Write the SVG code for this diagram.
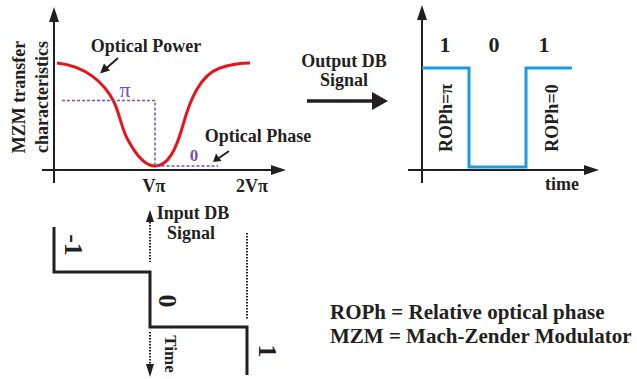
<svg xmlns="http://www.w3.org/2000/svg" width="637" height="379" viewBox="0 0 637 379">
<style>
text{font-family:"Liberation Serif","Times New Roman",serif;font-weight:bold;fill:#231f20}
.ax{stroke:#231f20;stroke-width:2;fill:none}
.dash{stroke:#7b4fb0;stroke-width:1.5;stroke-dasharray:3 2;fill:none}
.dot{stroke:#231f20;stroke-width:2;stroke-dasharray:1.5 1.5;fill:none}
.step{stroke:#231f20;stroke-width:3;fill:none}
.head{fill:#231f20}
</style>
<rect width="637" height="379" fill="#fff"/>

<g id="transfer-plot">
  <line class="ax" x1="54" y1="183" x2="54" y2="20"/>
  <polygon class="head" points="54,7 49,22 59,22"/>
  <line class="ax" x1="42" y1="170" x2="272" y2="170"/>
  <polygon class="head" points="286,170 271,165 271,175"/>
  <path d="M57,63 C85,66 104,82 114,102 C120,115 122,130 128,140 C136,155 145,166 155,166 C168,166 176,150 183,125 C190,100 200,75 220,68 C232,64 242,63 250,63" fill="none" stroke="#e8141b" stroke-width="3"/>
  <path class="dash" d="M62,100.5 H155 V166 H218"/>
  <text x="125" y="97" text-anchor="middle" style="font-weight:normal;font-size:22px;fill:#7b4fb0">π</text>
  <text x="194" y="161" text-anchor="middle" style="font-size:17px;fill:#7b4fb0">0</text>
  <text x="146" y="52" text-anchor="middle" font-size="18">Optical Power</text>
  <line class="ax" x1="118" y1="58" x2="106" y2="68.5"/>
  <polygon class="head" points="100,73.5 104,63.5 110,70.5"/>
  <text x="258" y="142" text-anchor="middle" font-size="18">Optical Phase</text>
  <line class="ax" x1="229" y1="151" x2="219" y2="158"/>
  <polygon class="head" points="213,162 216,153.5 221.5,161"/>
  <text transform="translate(25,97) rotate(-90)" text-anchor="middle" font-size="18">MZM transfer</text>
  <text transform="translate(48,97) rotate(-90)" text-anchor="middle" font-size="18">characteristics</text>
  <text x="154" y="192" text-anchor="middle" font-size="18">Vπ</text>
  <text x="252" y="192" text-anchor="middle" font-size="18">2Vπ</text>
</g>

<g id="output-arrow">
  <text x="344" y="67" text-anchor="middle" font-size="18">Output DB</text>
  <text x="344" y="86" text-anchor="middle" font-size="18">Signal</text>
  <line x1="307" y1="101" x2="374" y2="101" stroke="#231f20" stroke-width="3.5"/>
  <polygon class="head" points="388,101 372,92 372,110"/>
</g>

<g id="output-plot">
  <line class="ax" x1="422" y1="183" x2="422" y2="18"/>
  <polygon class="head" points="422,5 417,20 427,20"/>
  <line class="ax" x1="408" y1="170" x2="585" y2="170"/>
  <polygon class="head" points="599,170 584,165 584,175"/>
  <path d="M422,68 H469 V167 H526 V68 H572" fill="none" stroke="#1a9de0" stroke-width="3"/>
  <text x="445" y="52" text-anchor="middle" font-size="22">1</text>
  <text x="494" y="52" text-anchor="middle" font-size="22">0</text>
  <text x="544" y="52" text-anchor="middle" font-size="22">1</text>
  <text transform="translate(452,118) rotate(-90)" text-anchor="middle" font-size="18">ROPh=π</text>
  <text transform="translate(558,118) rotate(-90)" text-anchor="middle" font-size="18">ROPh=0</text>
  <text x="562" y="190" text-anchor="middle" font-size="18">time</text>
</g>

<g id="input-signal">
  <path class="step" d="M54,227 V272 H150 V327 H247 V375"/>
  <line class="dot" x1="150" y1="222" x2="150" y2="262"/>
  <polygon class="head" points="150,210 146,222 154,222"/>
  <line class="dot" x1="150" y1="332" x2="150" y2="364"/>
  <polygon class="head" points="150,377 146,364 154,364"/>
  <line class="dot" x1="247" y1="233" x2="247" y2="319"/>
  <text x="193" y="219" text-anchor="middle" font-size="18">Input DB</text>
  <text x="191" y="239" text-anchor="middle" font-size="18">Signal</text>
  <text transform="translate(65,245) rotate(90)" text-anchor="middle" font-size="26">-1</text>
  <text transform="translate(159,301) rotate(90)" text-anchor="middle" font-size="26">0</text>
  <text transform="translate(165,354) rotate(90)" text-anchor="middle" font-size="17">Time</text>
  <text transform="translate(259,351) rotate(90)" text-anchor="middle" font-size="26">1</text>
</g>

<g id="legend">
  <text x="330" y="319" font-size="21">ROPh = Relative optical phase</text>
  <text x="330" y="343" font-size="21">MZM = Mach-Zender Modulator</text>
</g>
</svg>
